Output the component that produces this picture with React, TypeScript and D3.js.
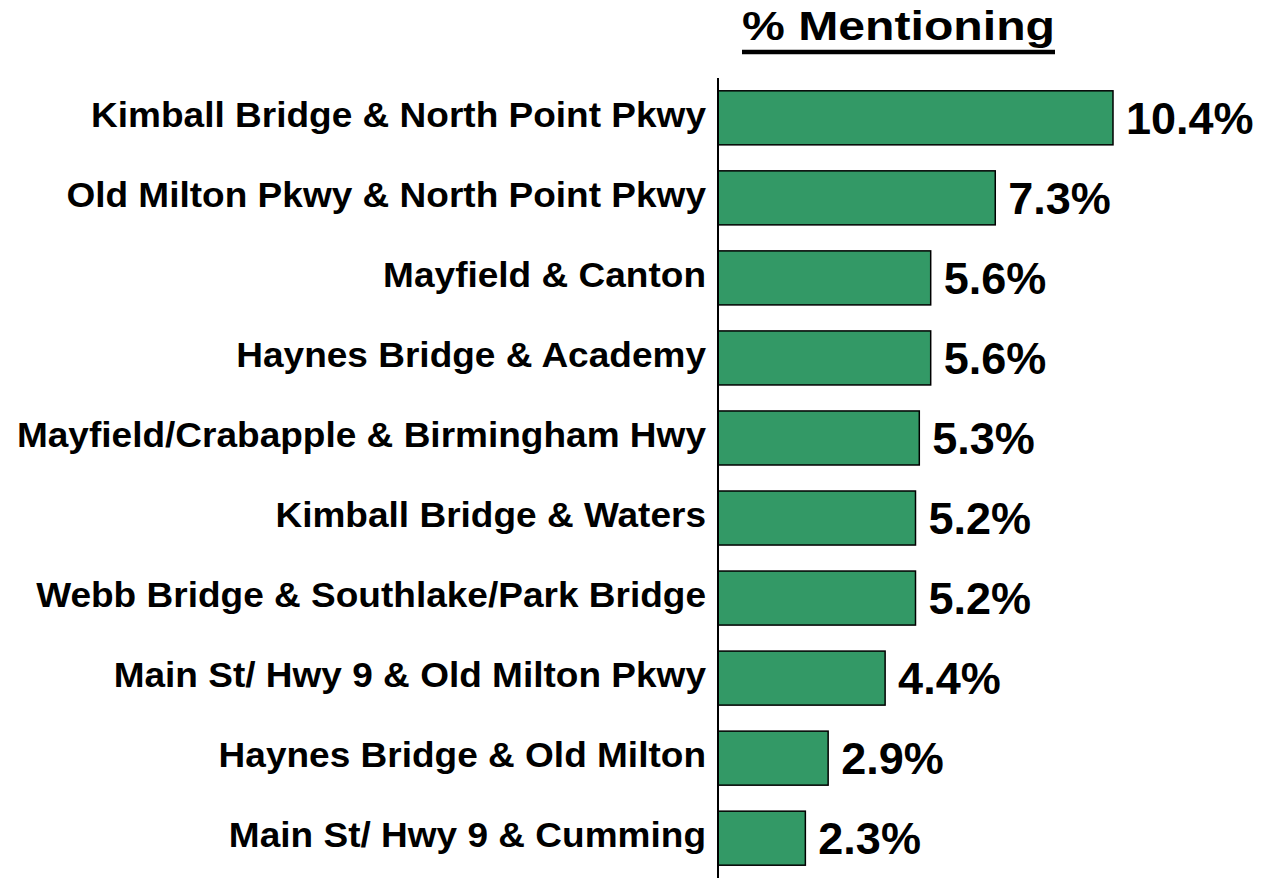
import React from "react";
import * as d3 from "d3";

const categories = [
  "Kimball Bridge & North Point Pkwy",
  "Old Milton Pkwy & North Point Pkwy",
  "Mayfield & Canton",
  "Haynes Bridge & Academy",
  "Mayfield/Crabapple & Birmingham Hwy",
  "Kimball Bridge & Waters",
  "Webb Bridge & Southlake/Park Bridge",
  "Main St/ Hwy 9 & Old Milton Pkwy",
  "Haynes Bridge & Old Milton",
  "Main St/ Hwy 9 & Cumming",
];
const values = [10.4, 7.3, 5.6, 5.6, 5.3, 5.2, 5.2, 4.4, 2.9, 2.3];
const title = "% Mentioning";

export default function App() {
  const W = 1263, H = 878;
  const x0 = 718;
  const x = d3.scaleLinear().domain([0, 10.4]).range([x0, 1113]);
  const y = d3.scaleBand<string>().domain(categories).range([78, 878]).paddingInner(0.325).paddingOuter(0.16);
  const font = "'Liberation Sans', Arial, sans-serif";
  return (
    <svg width={W} height={H} style={{ position: "absolute", left: 0, top: 0 }}>
      <text x={742} y={40} textLength={313} lengthAdjust="spacingAndGlyphs" fontFamily={font} fontWeight="bold" fontSize={40} fill="#000">
        {title}
      </text>
      <line x1={742} x2={1055} y1={52} y2={52} stroke="#000" strokeWidth={4.5} />
      {categories.map((c, i) => {
        const yy = y(c)!;
        const bh = y.bandwidth();
        return (
          <g key={c}>
            <rect x={x0} y={yy} width={x(values[i]) - x0} height={bh} fill="#339966" stroke="#000" strokeWidth={1.5} />
            <text transform={`translate(706,${yy + bh / 2 + 9}) scale(1.058,1)`} textAnchor="end" fontFamily={font} fontWeight="bold" fontSize={35} fill="#000">
              {c}
            </text>
            <text x={x(values[i]) + 13} y={yy + bh / 2 + 16} fontFamily={font} fontWeight="bold" fontSize={45} fill="#000">
              {values[i].toFixed(1) + "%"}
            </text>
          </g>
        );
      })}
      <line x1={x0} x2={x0} y1={78} y2={878} stroke="#000" strokeWidth={2} />
    </svg>
  );
}
